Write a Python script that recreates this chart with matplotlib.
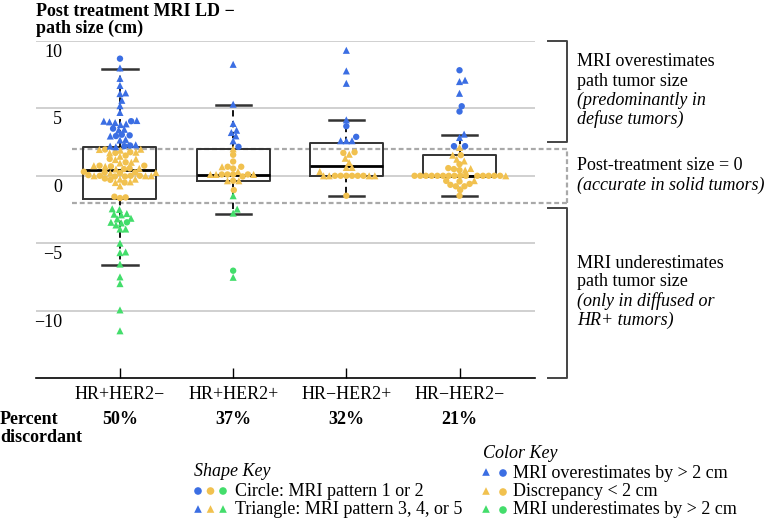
import matplotlib
matplotlib.use("Agg")
import matplotlib.pyplot as plt
import matplotlib.transforms as mtransforms
import numpy as np

plt.rcParams['font.family'] = ['Liberation Serif', 'DejaVu Serif']
plt.rcParams['font.size'] = 13

# --- data ---
groups = ["HR+HER2\u2212", "HR+HER2+", "HR\u2212HER2+", "HR\u2212HER2\u2212"]
percent_discordant = ["50%", "37%", "32%", "21%"]

# box stats per group
box_q1 = [-1.7, -0.37, 0.0, 0.0]
box_med = [0.44, 0.07, 0.74, 0.0]
box_q3 = [2.15, 2.0, 2.44, 1.56]
whisk_lo = [-6.6, -2.8, -1.48, -1.48]
whisk_hi = [7.93, 5.26, 4.15, 3.04]

# points per group, split by colour (over / agree / under) and shape
over_circle = [
    [8.69, 4.05, 3.5, 3.05, 3.0, 2.95, 2.25, 2.2],
    [2.15],
    [3.68, 2.89],
    [7.83, 5.16, 4.77, 2.2, 2.2],
]
over_tri = [
    [8.0, 7.23, 6.7, 6.15, 6.1, 5.6, 5.2, 4.7, 4.1, 4.05, 4.0, 3.95, 3.85, 3.8,
     3.45, 3.4, 2.95, 2.7, 2.65, 2.3, 2.2, 2.15],
    [8.27, 5.31, 3.88, 3.38, 3.21, 2.96, 2.59],
    [9.31, 7.78, 6.86, 4.15, 2.6, 2.6, 2.6],
    [7.09, 6.99, 6.12, 3.09, 2.84],
]
agree_circle = [
    [1.95, 1.75, 1.7, 1.5, 1.25, 1.0, 0.75, 0.75, 0.7, 0.55, 0.5, 0.3, 0.25, 0.25,
     0.2, 0.05, 0.0, 0.0, 0.0, -0.05, -0.05, -0.2, -0.3, -0.5, -1.6, -1.55, -1.65],
    [1.56, 1.06, 0.67, 0.67, 0.54, 0.1, 0.1, 0.1, 0.1, -0.05, -0.37, -1.06],
    [1.75, 1.7, 0.0, 0.0, 0.0, 0.0, 0.0, 0.0, -1.48],
    [1.53, 0.86, 0.57, 0.5, 0.42, 0, 0, 0, 0, 0, 0, 0, 0, 0, 0, 0, 0, 0, 0, 0,
     -0.38, -0.42, -0.6, -0.67, -0.78, -0.78, -1.06, -1.48],
]
agree_tri = [
    [1.97, 1.95, 1.9, 1.75, 1.7, 1.45, 1.25, 1.2, 1.0, 0.95, 0.75, 0.7, 0.55, 0.5,
     0.25, 0.2, 0.0, 0.0, 0.0, -0.25, -0.25, -0.5, -0.45, -0.75],
    [2.0, 0.67, 0.32, 0.1, 0.1, 0.1, -0.37, -0.37],
    [1.6, 1.3, 0.99, 0.62, 0.62, 0.32, 0.0, 0.0, 0.0, 0.0],
    [2.1, 1.53, 1.23, 1.1, 0.54, 0.42, 0.0, -0.36],
]
under_circle = [
    [-3.45],
    [-7.04],
    [],
    [],
]
under_tri = [
    [-2.45, -2.5, -2.8, -2.85, -2.9, -3.15, -3.2, -3.45, -3.5, -3.65, -3.95, -3.95,
     -5.0, -5.65, -5.7, -6.55, -7.5, -8.0, -9.95, -11.5],
    [-1.48, -2.47, -2.77, -7.53],
    [],
    [],
]

BLUE = '#3b6ee3'
YELLOW = '#f1c14f'
GREEN = '#43dd6b'
DARK = '#333333'


def swarm_offsets(y, d):
    # beeswarm in pixel space: each point as close to the centre as it fits
    order = np.argsort(y, kind='stable')
    placed = []
    xs = np.zeros(len(y))
    for i in order:
        yi = y[i]
        near = [(px, py) for px, py in placed if abs(py - yi) < d]
        cands = [0.0]
        for px, py in near:
            dx = np.sqrt(d ** 2 - (py - yi) ** 2)
            cands += [px - dx, px + dx]
        cands.sort(key=lambda c: (round(abs(c), 6), -c))
        for c in cands:
            if all((c - px) ** 2 + (yi - py) ** 2 >= d ** 2 - 1e-6 for px, py in near):
                break
        xs[i] = c
        placed.append((c, yi))
    return xs


fig = plt.figure(figsize=(7.67, 5.2), dpi=100)
W, H = 767, 520
ax = fig.add_axes([36 / W, 1 - 378 / H, (535 - 36) / W, (378 - 41) / H])
ax.set_xlim(-0.742, 3.667)
ax.set_ylim(-15, 10)

for s in ['left', 'right', 'top']:
    ax.spines[s].set_visible(False)
ax.spines['bottom'].set_linewidth(1.2)

ax.set_yticks([-10, -5, 0, 5, 10])
ax.yaxis.grid(True, color='#c4c4c4', lw=1.1)
ax.set_axisbelow(True)
ax.tick_params(axis='y', length=0, labelleft=False)
ax.set_xticks(range(4), groups)
ax.tick_params(axis='x', direction='in', length=7, width=1, pad=6, labelsize=13)

# y labels sit just below their grid lines
ylab_tr = mtransforms.offset_copy(ax.get_yaxis_transform(), fig=fig, x=0, y=-11.5, units='dots')
for v in [-10, -5, 0, 5, 10]:
    lab = str(v).replace('-', '\u2212')
    ax.text(26 / 499, v, lab, transform=ylab_tr, ha='right', va='center', fontsize=13)

# dashed "agreement" band at +-2 cm
band_tr = ax.get_yaxis_transform()
x0, x1 = (72 - 36) / 499, (567 - 36) / 499
for yv in [2, -2]:
    ax.plot([x0, x1], [yv, yv], transform=band_tr, color='#a9a9a9', lw=1.6,
            dashes=(2.2, 1.3), clip_on=False, zorder=1)
ax.plot([x1, x1], [-2, 2], transform=band_tr, color='#a9a9a9', lw=1.6,
        dashes=(2.2, 1.3), clip_on=False, zorder=1)

# brackets on the right
xb0, xb1 = (548 - 36) / 499, (567 - 36) / 499
for top, bot in [(10, 2.5), (-2.4, -15)]:
    ax.plot([xb0, xb1, xb1, xb0], [top, top, bot, bot], transform=band_tr,
            color='#444444', lw=1.4, clip_on=False)

# boxes
stats = []
for i in range(4):
    stats.append({'q1': box_q1[i], 'med': box_med[i], 'q3': box_q3[i],
                  'whislo': whisk_lo[i], 'whishi': whisk_hi[i], 'fliers': []})
ax.bxp(stats, positions=range(4), widths=0.645, capwidths=0.31, showfliers=False,
       boxprops=dict(color=DARK, lw=1.4),
       medianprops=dict(color='black', lw=2),
       whiskerprops=dict(color='black', lw=1.3, dashes=(3.5, 2.5)),
       capprops=dict(color=DARK, lw=1.8),
       manage_ticks=False, zorder=2)

# swarms
px_y = ax.transData.transform((0, 1))[1] - ax.transData.transform((0, 0))[1]
px_x = ax.transData.transform((1, 0))[0] - ax.transData.transform((0, 0))[0]
sets = [(over_circle, BLUE, 'o'), (over_tri, BLUE, '^'),
        (agree_circle, YELLOW, 'o'), (agree_tri, YELLOW, '^'),
        (under_circle, GREEN, 'o'), (under_tri, GREEN, '^')]
for g in range(4):
    vals, cols, marks = [], [], []
    for data, col, mk in sets:
        vals += list(data[g])
        cols += [col] * len(data[g])
        marks += [mk] * len(data[g])
    vals = np.array(vals, dtype=float)
    off = swarm_offsets(vals * px_y, 5.7)
    xpos = g + off / px_x
    for mk, size in [('o', 21), ('^', 26)]:
        sel = [k for k in range(len(vals)) if marks[k] == mk]
        ax.scatter(xpos[sel], vals[sel], marker=mk, s=size,
                   c=[cols[k] for k in sel], edgecolors='none', zorder=4)

# percent discordant row
pct_tr = ax.get_xaxis_transform()
for i, p in enumerate(percent_discordant):
    ax.text(i, (378 - 419) / 337, p, transform=pct_tr, ha='center', va='center',
            fontsize=13, fontweight='bold')
fig.text(0 / W, 1 - 419 / H, "Percent", ha='left', va='center', fontsize=13, fontweight='bold')
fig.text(0 / W, 1 - 437 / H, "discordant", ha='left', va='center', fontsize=13, fontweight='bold')

# axis title
fig.text(36 / W, 1 - 11 / H, "Post treatment MRI LD \u2212", ha='left', va='center',
         fontsize=13, fontweight='bold')
fig.text(36 / W, 1 - 28 / H, "path size (cm)", ha='left', va='center',
         fontsize=13, fontweight='bold')

# right-hand notes
notes = [
    (62, "MRI overestimates", 'normal'),
    (81, "path tumor size", 'normal'),
    (100, "(predominantly in", 'italic'),
    (119, "defuse tumors)", 'italic'),
    (166, "Post-treatment size = 0", 'normal'),
    (185, "(accurate in solid tumors)", 'italic'),
    (263, "MRI underestimates", 'normal'),
    (282, "path tumor size", 'normal'),
    (301, "(only in diffused or", 'italic'),
    (320, "HR+ tumors)", 'italic'),
]
for yy, txt, st in notes:
    fig.text(577 / W, 1 - yy / H, txt, ha='left', va='center', fontsize=13, style=st)

# shape key
fig.text(194 / W, 1 - 472 / H, "Shape Key", ha='left', va='center', fontsize=13, style='italic')
for k, col in enumerate([BLUE, YELLOW, GREEN]):
    xk = (198 + 12.5 * k) / W
    ax.scatter([xk], [1 - 491 / H], transform=fig.transFigure, marker='o', s=30,
               c=col, edgecolors='none', clip_on=False)
    ax.scatter([xk], [1 - 509 / H], transform=fig.transFigure, marker='^', s=30,
               c=col, edgecolors='none', clip_on=False)
fig.text(235 / W, 1 - 491 / H, "Circle: MRI pattern 1 or 2", ha='left', va='center', fontsize=13)
fig.text(235 / W, 1 - 510 / H, "Triangle: MRI pattern 3, 4, or 5", ha='left', va='center', fontsize=13)

# colour key
fig.text(483 / W, 1 - 453 / H, "Color Key", ha='left', va='center', fontsize=13, style='italic')
color_rows = [(473, BLUE, "MRI overestimates by > 2 cm"),
              (492, YELLOW, "Discrepancy < 2 cm"),
              (510, GREEN, "MRI underestimates by > 2 cm")]
for yy, col, txt in color_rows:
    ax.scatter([486 / W], [1 - (yy - 1) / H], transform=fig.transFigure, marker='^', s=30,
               c=col, edgecolors='none', clip_on=False)
    ax.scatter([503 / W], [1 - yy / H], transform=fig.transFigure, marker='o', s=30,
               c=col, edgecolors='none', clip_on=False)
    fig.text(513 / W, 1 - yy / H, txt, ha='left', va='center', fontsize=13)

fig.savefig("out.png", dpi=100)
